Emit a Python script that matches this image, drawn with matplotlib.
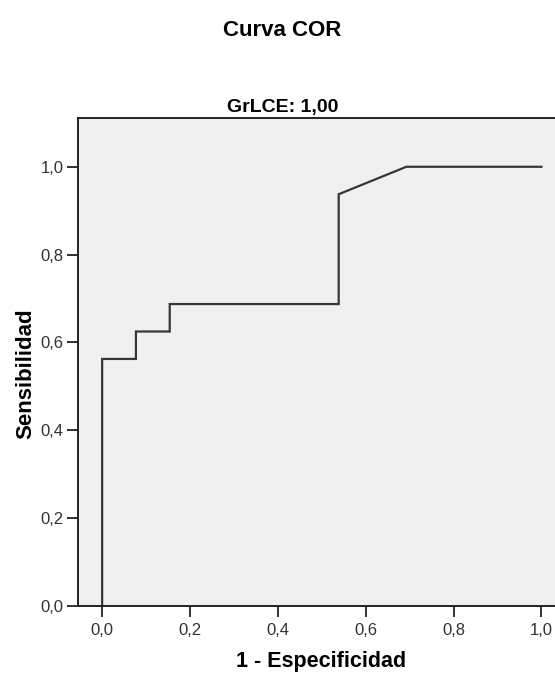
import matplotlib
matplotlib.use("Agg")
import matplotlib.pyplot as plt

# ROC curve points (1 - especificidad, sensibilidad)
fpr = [0.0, 0.0, 1/13, 1/13, 2/13, 2/13, 7/13, 7/13, 9/13, 1.0]
tpr = [0.0, 9/16, 9/16, 10/16, 10/16, 11/16, 11/16, 15/16, 1.0, 1.0]

ticks = [0.0, 0.2, 0.4, 0.6, 0.8, 1.0]
tick_labels = ["0,0", "0,2", "0,4", "0,6", "0,8", "1,0"]

plt.rcParams['font.family'] = ['Liberation Sans', 'DejaVu Sans']

fig = plt.figure(figsize=(5.55, 6.83), dpi=100)
ax = fig.add_axes([0.1405, 0.1127, 0.881, 0.7145])
ax.set_facecolor("#F0F0F0")

ax.plot(fpr, tpr, color="#363636", lw=1.6, solid_joinstyle="miter")

ax.set_xlim(-0.055, 1.058)
ax.set_ylim(0.0, 1.111)
ax.set_xticks(ticks)
ax.set_xticklabels(tick_labels)
ax.set_yticks(ticks)
ax.set_yticklabels(tick_labels)
ax.tick_params(direction="out", length=8, width=1.3, color="#222222",
               labelsize=12, labelcolor="#333333")
ax.tick_params(axis="y", pad=2.5)
ax.tick_params(axis="x", pad=4)
for s in ax.spines.values():
    s.set_linewidth(1.4)
    s.set_color("#222222")

fig.text(0.578, 0.0234, "1 - Especificidad", ha="center", va="baseline",
         fontsize=15.5, fontweight="bold")
fig.text(0.047, 0.4524, "Sensibilidad", ha="center", va="center",
         rotation=90, fontsize=16, fontweight="bold")

fig.text(0.509, 0.947, "Curva COR", ha="center", va="baseline",
         fontsize=16, fontweight="bold")
fig.text(0.509, 0.836, "GrLCE: 1,00", ha="center", va="baseline",
         fontsize=14, fontweight="bold")

fig.savefig("out.png", dpi=100)
